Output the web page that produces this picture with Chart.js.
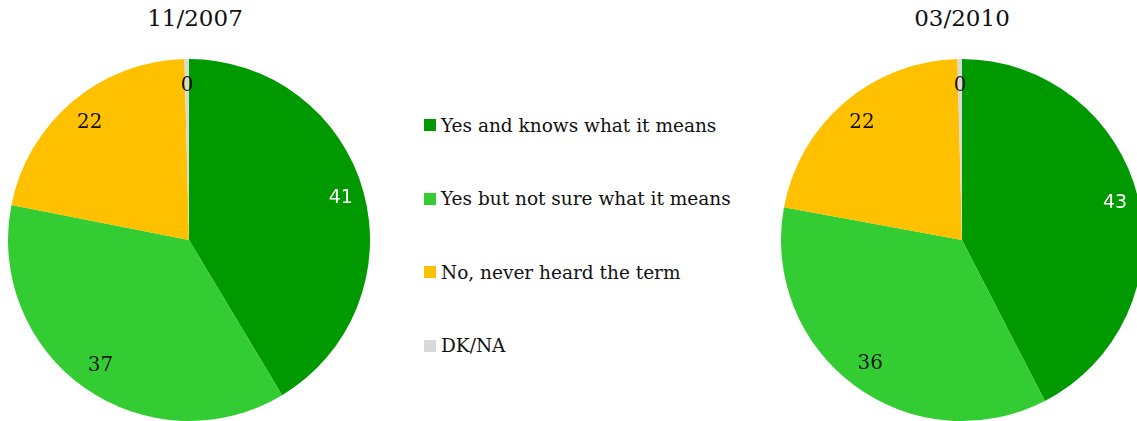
<!DOCTYPE html>
<html lang="en">
<head>
  <meta charset="UTF-8" />
  <title>Term awareness 2007 vs 2010</title>
  <style>
    html, body { margin: 0; padding: 0; background: #fff; }
    body { width: 1137px; height: 421px; overflow: hidden; position: relative; font-family: "DejaVu Serif", serif; color: #111; }
    .title { position: absolute; top: 5px; width: 200px; text-align: center; font-size: 23px; }
    .pie-box { position: absolute; top: 58px; width: 362px; height: 364px; }
    #legend { position: absolute; left: 424px; top: 112px; }
    .legend-item { display: flex; align-items: center; height: 26px; margin-bottom: 47.5px; font-size: 18.5px; }
    .legend-item .swatch { width: 12px; height: 12px; margin-right: 5px; }
  </style>
</head>
<body>
  <div class="title" style="left: 95px;">11/2007</div>
  <div class="title" style="left: 862px;">03/2010</div>

  <div class="pie-box" style="left: 8px;"><canvas id="pie2007"></canvas></div>
  <div class="pie-box" style="left: 781px;"><canvas id="pie2010"></canvas></div>

  <div id="legend"></div>

<script src="https://cdn.jsdelivr.net/npm/chart.js"></script>
<script>
const categories = ["Yes and knows what it means", "Yes but not sure what it means", "No, never heard the term", "DK/NA"];
const values2007 = [41.4, 36.7, 21.5, 0.4];
const values2010 = [42.6, 35.6, 21.8, 0.4];
const colors = ["#009900", "#33cc33", "#ffc000", "#d9d9d9"];

// labels drawn inside each slice, along the middle angle
const sliceLabels = {
  id: "sliceLabels",
  afterDatasetsDraw(chart) {
    const ctx = chart.ctx;
    const meta = chart.getDatasetMeta(0);
    const values = chart.data.datasets[0].data;
    meta.data.forEach((arc, i) => {
      const p = arc.getProps(["x", "y", "startAngle", "endAngle", "outerRadius"], true);
      const mid = (p.startAngle + p.endAngle) / 2;
      const r = p.outerRadius * (i === 0 ? 0.87 : 0.85);
      ctx.save();
      if (i === 0) {
        ctx.fillStyle = "#ffffff";
        ctx.font = "19px 'DejaVu Sans', sans-serif";
      } else {
        ctx.fillStyle = "#111111";
        ctx.font = "20px 'DejaVu Serif', serif";
      }
      ctx.textAlign = "center";
      ctx.textBaseline = "middle";
      ctx.fillText(Math.round(values[i]), p.x + Math.cos(mid) * r, p.y + Math.sin(mid) * r);
      ctx.restore();
    });
  }
};

function makePie(id, values) {
  new Chart(document.getElementById(id), {
    type: "pie",
    data: {
      labels: categories,
      datasets: [{ data: values, backgroundColor: colors, borderWidth: 0 }]
    },
    options: {
      responsive: true,
      maintainAspectRatio: false,
      animation: false,
      layout: { padding: 0 },
      plugins: { legend: { display: false }, tooltip: { enabled: false } }
    },
    plugins: [sliceLabels]
  });
}

makePie("pie2007", values2007);
makePie("pie2010", values2010);

// LEGEND
const legend = document.getElementById("legend");
categories.forEach((name, i) => {
  const row = document.createElement("div");
  row.className = "legend-item";
  row.innerHTML = `<span class="swatch" style="background:${colors[i]}"></span><span>${name}</span>`;
  legend.appendChild(row);
});
</script>
</body>
</html>
